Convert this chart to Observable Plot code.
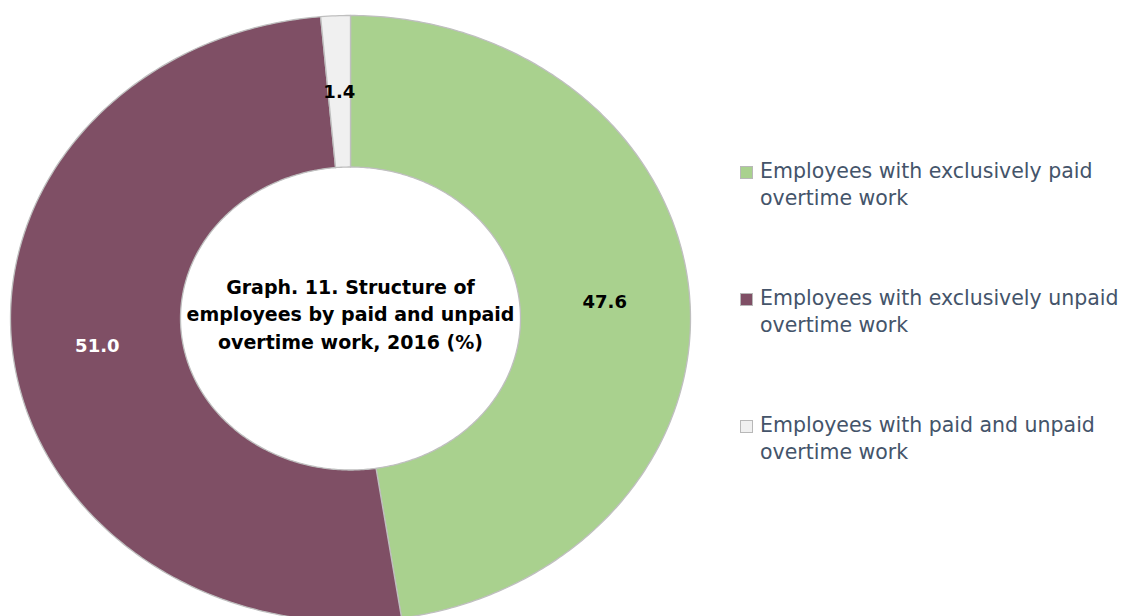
<!DOCTYPE html>
<html><head><meta charset="utf-8">
<script src="https://cdn.jsdelivr.net/npm/d3@7"></script>
<script src="https://cdn.jsdelivr.net/npm/@observablehq/plot@0.6"></script>
<style>
body{margin:0;background:#fff;font-family:"DejaVu Sans",sans-serif;}
#wrap{position:relative;width:1126px;height:616px;overflow:hidden;}
#chart{position:absolute;left:0;top:0;}
.entry{position:absolute;left:740px;width:386px;}
.sq{position:absolute;left:0;top:8px;width:11px;height:11px;border:1px solid #b8b8b8;}
.lt{position:absolute;left:20px;top:0;font-size:20.5px;line-height:27px;color:#44546A;white-space:nowrap;}
</style></head><body>
<div id="wrap"><div id="chart"></div><div id="legend"></div></div>
<script>
// ---- data ----
const categories = [
  "Employees with exclusively paid overtime work",
  "Employees with exclusively unpaid overtime work",
  "Employees with paid and unpaid overtime work"
];
const legendLines = [
  ["Employees with exclusively paid", "overtime work"],
  ["Employees with exclusively unpaid", "overtime work"],
  ["Employees with paid and unpaid", "overtime work"]
];
const values = [47.6, 51.0, 1.4];
const valueLabels = ["47.6", "51.0", "1.4"];
const colors = ["#A9D18E", "#7F4F65", "#F0F0F0"];
const labelColors = ["#000000", "#FFFFFF", "#000000"];
const titleLines = ["Graph. 11. Structure of", "employees by paid and unpaid", "overtime work, 2016 (%)"];

// ---- geometry (unit ellipse, outer radius 1, inner 0.5) ----
const W = 1126, H = 616;
const cx = 350, cy = 318, rxPx = 340, ryPx = 303;
const inner = 0.5, outer = 1;
const pie = d3.pie().sort(null).value(d => d)(values);

const polys = [];
pie.forEach((p, i) => {
  const n = Math.max(8, Math.ceil((p.endAngle - p.startAngle) * 80));
  for (let k = 0; k <= n; k++) {
    const a = p.startAngle + (p.endAngle - p.startAngle) * k / n;
    polys.push({x: outer * Math.sin(a), y: outer * Math.cos(a), cat: categories[i]});
  }
  for (let k = n; k >= 0; k--) {
    const a = p.startAngle + (p.endAngle - p.startAngle) * k / n;
    polys.push({x: inner * Math.sin(a), y: inner * Math.cos(a), cat: categories[i]});
  }
});

const labels = pie.map((p, i) => {
  const a = (p.startAngle + p.endAngle) / 2, r = (inner + outer) / 2;
  return {x: r * Math.sin(a), y: r * Math.cos(a), text: valueLabels[i], color: labelColors[i]};
});

const chart = Plot.plot({
  width: W, height: H,
  margin: 0,
  style: {background: "transparent", fontFamily: "'DejaVu Sans', sans-serif"},
  x: {domain: [-cx / rxPx, (W - cx) / rxPx], range: [0, W], axis: null},
  y: {domain: [-(H - cy) / ryPx, cy / ryPx], range: [H, 0], axis: null},
  color: {domain: categories, range: colors},
  marks: [
    Plot.line(polys, {x: "x", y: "y", z: "cat", fill: "cat", stroke: "#BFBFBF", strokeWidth: 1.3, curve: "linear-closed"}),
    Plot.text(labels, {x: "x", y: "y", dy: 1, text: "text", fill: "color", fontSize: 18, fontWeight: "bold"}),
    Plot.text([titleLines.join("\n")], {x: 0, y: 0, dy: -6, fontSize: 19, fontWeight: "bold", fill: "#000", lineHeight: 1.47})
  ]
});
document.getElementById("chart").appendChild(chart);

const leg = document.getElementById("legend");
const tops = [158, 285, 412];
categories.forEach((c, i) => {
  const e = document.createElement("div");
  e.className = "entry";
  e.style.top = tops[i] + "px";
  const s = document.createElement("div");
  s.className = "sq";
  s.style.background = colors[i];
  const t = document.createElement("div");
  t.className = "lt";
  t.innerHTML = legendLines[i].join("<br>");
  e.appendChild(s); e.appendChild(t);
  leg.appendChild(e);
});
</script>
</body></html>
